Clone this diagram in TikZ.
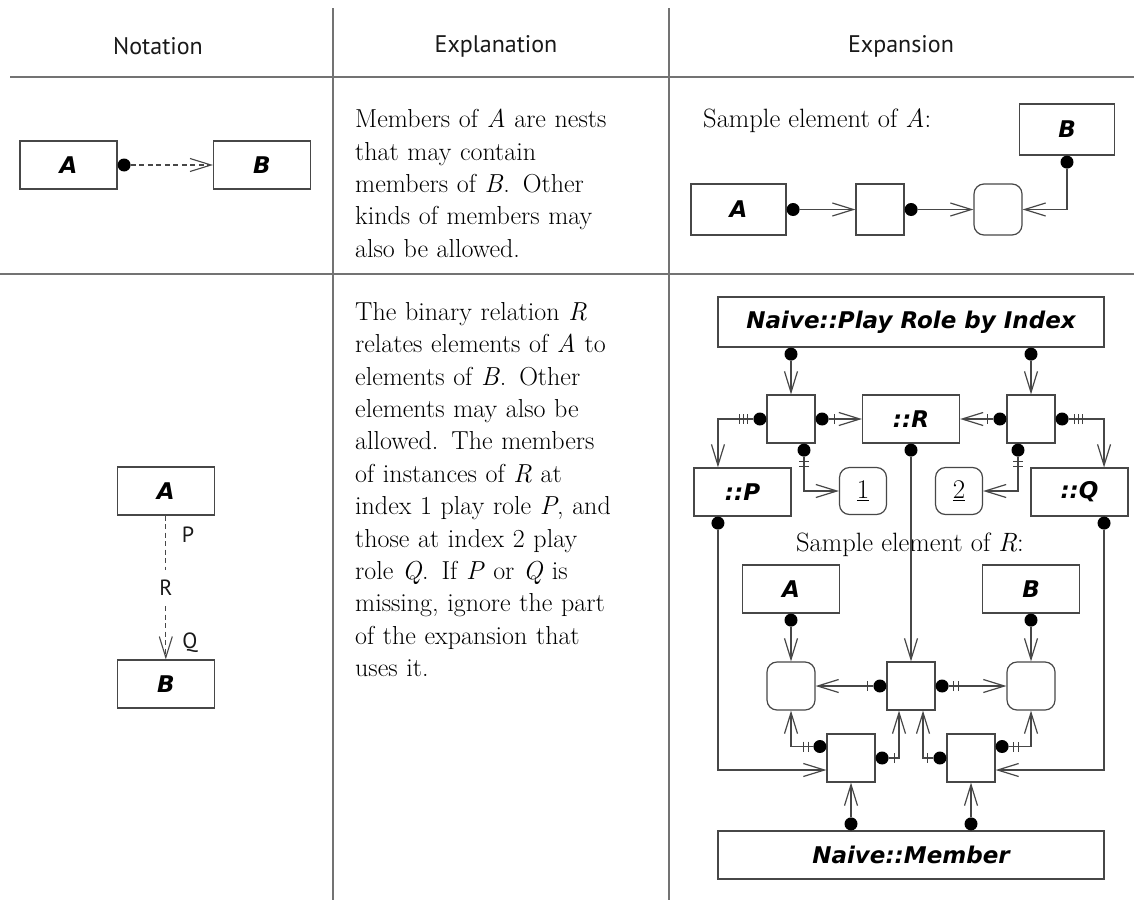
\documentclass[tikz,border=0pt]{standalone}
\usepackage{fontspec}
\newfontfamily\hdrfont{PT Sans}
\newfontfamily\labfont{DejaVu Sans}
\usetikzlibrary{arrows.meta,calc,decorations.markings}
\begin{document}
\begin{tikzpicture}[x=1pt,y=-1pt,
  tbl/.style={draw=black!55, line width=1.3pt},
  ln/.style={draw=black!72, line width=1.2pt},
  box/.style={ln, fill=white, minimum width=97pt, minimum height=48pt, inner sep=0pt,
     font=\labfont\bfseries\itshape\fontsize{23}{23}\selectfont},
  sq/.style={ln, fill=white, minimum width=48pt, minimum height=48pt, inner sep=0pt},
  rsq/.style={sq, rounded corners=10pt, font=\fontsize{27}{27}\selectfont},
  dot/.style={circle, fill=black, inner sep=0pt, minimum size=13pt},
  conn/.style={ln, -{Straight Barb[length=21pt,width=13pt]}},
  tk/.style={draw=black!75, line width=1.1pt, arrows=-, solid},
  t1/.style={postaction={decorate,decoration={markings,
     mark=at position 5.5pt with {\draw[tk] (0pt,-5pt)--(0pt,5pt);}}}},
  t2/.style={postaction={decorate,decoration={markings,
     mark=at position 5pt with {\draw[tk] (0pt,-5pt)--(0pt,5pt);},
     mark=at position 9.5pt with {\draw[tk] (0pt,-5pt)--(0pt,5pt);}}}},
  t3/.style={postaction={decorate,decoration={markings,
     mark=at position 6pt with {\draw[tk] (0pt,-5pt)--(0pt,5pt);},
     mark=at position 10pt with {\draw[tk] (0pt,-5pt)--(0pt,5pt);},
     mark=at position 14pt with {\draw[tk] (0pt,-5pt)--(0pt,5pt);}}}},
  body/.style={font=\fontsize{26}{32.4}\selectfont, text width=330pt, align=left,
     inner sep=0pt, anchor=north west, text=black},
  hdr/.style={font=\hdrfont\fontsize{24}{24}\selectfont, text=black!90},
  rl/.style={font=\hdrfont\fontsize{22}{22}\selectfont, text=black!90},
]
\fill[white] (0,0) rectangle (1134,900);
\useasboundingbox (0,0) rectangle (1134,900);

% ---------- table ----------
\draw[tbl] (10,77) -- (1134,77);
\draw[tbl] (0,274) -- (1134,274);
\draw[tbl] (333,8) -- (333,900);
\draw[tbl] (669,8) -- (669,900);
\node[hdr] (h1) at (158,46) {Notation};
\node[hdr] (h2) at (496,46) {Explanation};
\node[hdr] (h3) at (901,46) {Expansion};

% ---------- row 1: notation ----------
\node[box] (nA) at (68.5,165) {A};
\node[box] (nB) at (262,165) {B};
\node[dot] (nAd) at ($(nA.east)+(6.5,0)$) {};
\draw[conn, line width=1.1pt, dash pattern=on 5pt off 3.5pt] (nAd) -- (nB.west);

% ---------- row 1: explanation ----------
\node[body] (t1) at (355,109) {Members of \textit{A} are nests\\
that may contain\\
members of \textit{B}\@.  Other\\
kinds of members may\\
also be allowed.};

% ---------- row 1: expansion ----------
\node[anchor=base west, inner sep=0pt, font=\fontsize{26.5}{26.5}\selectfont] (sA) at (703,127) {Sample element of \textit{A}:};
\node[box, minimum width=95pt, minimum height=51pt] (eB) at (1067,129.5) {B};
\node[box, minimum width=95pt, minimum height=51pt] (eA) at (738.5,209.5) {A};
\node[sq, minimum height=51pt] (eS) at (880,209.5) {};
\node[rsq, minimum height=51pt] (eR) at (998,209.5) {};
\node[dot] (eAd) at ($(eA.east)+(6.5,0)$) {};
\node[dot] (eSd) at ($(eS.east)+(6.5,0)$) {};
\node[dot] (eBd) at ($(eB.south)+(0,6.5)$) {};
\draw[conn] (eAd) -- (eS.west);
\draw[conn] (eSd) -- (eR.west);
\draw[conn] (eBd) |- (eR.east);

% ---------- row 2: notation ----------
\node[box] (rA) at (165.8,491) {A};
\node[box] (rB) at (165.8,684) {B};
\node[rl, minimum height=36pt, inner sep=0pt] (rR) at (165.8,588) {R};
\node[rl] (rP) at (188,535) {P};
\node[rl] (rQ) at (190,643) {Q};
\draw[conn, line width=1.1pt, dash pattern=on 5pt off 3.5pt] (rA.south) -- (rR) -- (rB.north);

% ---------- row 2: explanation ----------
\node[body] (t2) at (355,302) {The binary relation \textit{R}\\
relates elements of \textit{A} to\\
elements of \textit{B}\@.  Other\\
elements may also be\\
allowed.  The members\\
of instances of \textit{R} at\\
index 1 play role \textit{P}, and\\
those at index 2 play\\
role \textit{Q}\@.  If \textit{P} or \textit{Q} is\\
missing, ignore the part\\
of the expansion that\\
uses it.};

% ---------- row 2: expansion ----------
\node[box, minimum width=386pt, minimum height=50pt] (pri) at (911,322) {Naive::Play Role by Index};
\node[dot] (pd1) at ($(pri.south)+(-120,6.5)$) {};
\node[dot] (pd2) at ($(pri.south)+(120,6.5)$) {};

\node[sq] (sqL) at (791,419) {};
\node[box] (Rb) at (911,419) {::R};
\node[sq] (sqR) at (1031,419) {};
\draw[conn] (pd1) -- (sqL.north);
\draw[conn] (pd2) -- (sqR.north);

\node[box] (Pb) at (742.5,492) {::P};
\node[box] (Qb) at (1079.5,492) {::Q};
\node[rsq, minimum width=47pt, minimum height=47pt] (one) at (863,491) {\underline{1}};
\node[rsq, minimum width=47pt, minimum height=47pt] (two) at (959,491) {\underline{2}};

\node[dot] (sLw) at ($(sqL.west)+(-6.5,0)$) {};
\node[dot] (sLe) at ($(sqL.east)+(6.5,0)$) {};
\node[dot] (sLs) at ($(sqL.south)+(13,6.5)$) {};
\node[dot] (sRw) at ($(sqR.west)+(-6.5,0)$) {};
\node[dot] (sRe) at ($(sqR.east)+(6.5,0)$) {};
\node[dot] (sRs) at ($(sqR.south)+(-13,6.5)$) {};
\node[dot] (Rs) at ($(Rb.south)+(0,6.5)$) {};

\coordinate (Ptop) at ($(Pb.north west)!0.25!(Pb.north east)$);
\coordinate (Qtop) at ($(Qb.north west)!0.75!(Qb.north east)$);
\draw[conn,t3] (sLw) -| (Ptop);
\draw[conn,t1] (sLe) -- (Rb.west);
\draw[conn,t1] (sRw) -- (Rb.east);
\draw[conn,t3] (sRe) -| (Qtop);
\draw[conn,t2] (sLs) |- (one.west);
\draw[conn,t2] (sRs) |- (two.east);

\node[anchor=base, inner sep=0pt, font=\fontsize{26.5}{26.5}\selectfont] (sR) at (910,551.7) {Sample element of \textit{R}:};

\node[box] (lA) at (791,589) {A};
\node[box] (lB) at (1031,589) {B};
\node[dot] (lAd) at ($(lA.south)+(0,6.5)$) {};
\node[dot] (lBd) at ($(lB.south)+(0,6.5)$) {};

\node[rsq] (mL) at (791,686) {};
\node[sq] (mC) at (911,686) {};
\node[rsq] (mR) at (1031,686) {};
\draw[conn] (lAd) -- (mL.north);
\draw[conn] (lBd) -- (mR.north);
\draw[conn] (Rs) -- (mC.north);

\node[dot] (mCw) at ($(mC.west)+(-6.5,0)$) {};
\node[dot] (mCe) at ($(mC.east)+(6.5,0)$) {};
\draw[conn,t1] (mCw) -- (mL.east);
\draw[conn,t2] (mCe) -- (mR.west);

\node[sq] (LL) at (851,758) {};
\node[sq] (LR) at (971,758) {};
\node[dot] (LLw) at ($(LL.west)+(-6.5,-11.5)$) {};
\node[dot] (LLe) at ($(LL.east)+(6.5,0)$) {};
\node[dot] (LRw) at ($(LR.west)+(-6.5,0)$) {};
\node[dot] (LRe) at ($(LR.east)+(6.5,-11.5)$) {};
\coordinate (mCb1) at ($(mC.south)+(-12,0)$);
\coordinate (mCb2) at ($(mC.south)+(12,0)$);
\draw[conn,t2] (LLw) -| (mL.south);
\draw[conn,t1] (LLe) -| (mCb1);
\draw[conn,t1] (LRw) -| (mCb2);
\draw[conn,t2] (LRe) -| (mR.south);

\coordinate (Pbot) at ($(Pb.south west)!0.25!(Pb.south east)$);
\coordinate (Qbot) at ($(Qb.south west)!0.75!(Qb.south east)$);
\node[dot] (Pd) at ($(Pbot)+(0,6.5)$) {};
\node[dot] (Qd) at ($(Qbot)+(0,6.5)$) {};
\coordinate (LLin) at ($(LL.west)+(0,12)$);
\coordinate (LRin) at ($(LR.east)+(0,12)$);
\draw[conn] (Pd) |- (LLin);
\draw[conn] (Qd) |- (LRin);

\node[box, minimum width=386pt, minimum height=48pt] (mem) at (911,855) {Naive::Member};
\node[dot] (md1) at ($(mem.north)+(-60,-6.5)$) {};
\node[dot] (md2) at ($(mem.north)+(60,-6.5)$) {};
\draw[conn] (md1) -- (LL.south);
\draw[conn] (md2) -- (LR.south);
\end{tikzpicture}
\end{document}
